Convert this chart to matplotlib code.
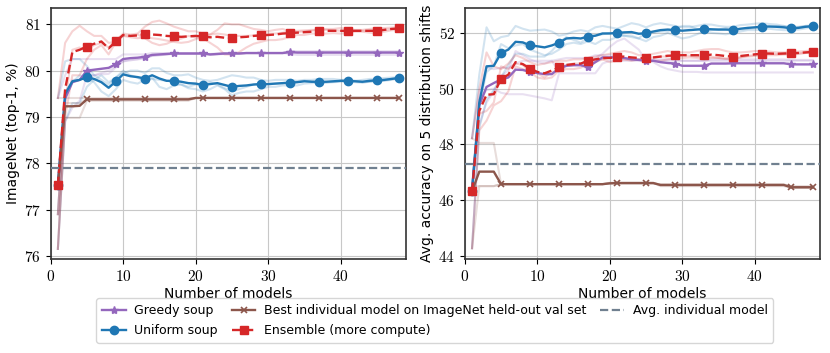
import numpy as np
import matplotlib
matplotlib.use("Agg")
import matplotlib.pyplot as plt
from matplotlib.ticker import FuncFormatter

plt.rcParams['font.family'] = ['DejaVu Sans']
plt.rcParams['mathtext.fontset'] = 'cm'

num_models = list(range(1, 49))

# ---------------- ImageNet (left) ----------------
in_greedy = [77.52, 79.4, 79.75, 79.8, 80.0, 80.02, 80.04, 80.06, 80.14, 80.25, 80.27, 80.28, 80.3, 80.34, 80.35, 80.36,
             80.37, 80.37, 80.37, 80.37, 80.37, 80.35, 80.36, 80.37, 80.37, 80.37, 80.38, 80.38, 80.38, 80.38, 80.38, 80.38,
             80.4, 80.39, 80.39, 80.39, 80.39, 80.39, 80.39, 80.39, 80.39, 80.39, 80.39, 80.39, 80.39, 80.39, 80.39, 80.39]
in_uniform = [77.52, 79.5, 79.77, 79.8, 79.86, 79.82, 79.75, 79.63, 79.77, 79.92, 79.88, 79.86, 79.83, 79.9, 79.83, 79.78,
              79.78, 79.76, 79.73, 79.72, 79.69, 79.71, 79.73, 79.69, 79.65, 79.67, 79.68, 79.7, 79.71, 79.71, 79.72, 79.73,
              79.74, 79.75, 79.77, 79.76, 79.76, 79.76, 79.77, 79.78, 79.78, 79.77, 79.76, 79.78, 79.79, 79.8, 79.82, 79.84]
in_best = [77.52, 79.23, 79.23, 79.24, 79.38, 79.38, 79.38, 79.38, 79.38, 79.38, 79.38, 79.38, 79.38, 79.38, 79.38, 79.38,
           79.38, 79.38, 79.38, 79.41, 79.41, 79.41, 79.41, 79.41, 79.41, 79.41, 79.41, 79.41, 79.41, 79.41, 79.41, 79.41,
           79.41, 79.41, 79.41, 79.41, 79.41, 79.41, 79.41, 79.41, 79.41, 79.41, 79.41, 79.41, 79.41, 79.41, 79.41, 79.41]
in_ensemble = [77.52, 79.6, 80.4, 80.45, 80.52, 80.58, 80.63, 80.48, 80.63, 80.77, 80.75, 80.76, 80.79, 80.78, 80.77, 80.75,
               80.74, 80.73, 80.74, 80.75, 80.74, 80.72, 80.73, 80.71, 80.7, 80.72, 80.73, 80.75, 80.76, 80.77, 80.78, 80.8,
               80.81, 80.82, 80.83, 80.84, 80.85, 80.86, 80.86, 80.86, 80.86, 80.86, 80.86, 80.86, 80.86, 80.88, 80.9, 80.91]
in_avg_individual = 77.89

# individual random orderings (faint lines)
in_greedy_runs = [
    [79.41, 79.9, 80.25, 80.25, 80.25, 80.25, 80.25, 80.25, 80.25, 80.35, 80.35, 80.35, 80.35, 80.38, 80.38, 80.38,
     80.38, 80.38, 80.38, 80.38, 80.38, 80.36, 80.37, 80.38, 80.38, 80.38, 80.38, 80.38, 80.38, 80.38, 80.38, 80.38,
     80.42, 80.42, 80.42, 80.42, 80.42, 80.42, 80.42, 80.42, 80.42, 80.42, 80.42, 80.42, 80.42, 80.42, 80.42, 80.42],
    [76.9, 79.4, 79.8, 79.8, 79.85, 79.9, 79.95, 80.0, 80.1, 80.2, 80.22, 80.25, 80.28, 80.32, 80.33, 80.35,
     80.36, 80.36, 80.36, 80.36, 80.36, 80.34, 80.35, 80.36, 80.36, 80.36, 80.38, 80.38, 80.38, 80.38, 80.38, 80.38,
     80.42, 80.4, 80.4, 80.4, 80.4, 80.4, 80.4, 80.4, 80.4, 80.4, 80.4, 80.4, 80.4, 80.4, 80.4, 80.4],
    [76.15, 78.9, 79.2, 79.35, 79.9, 79.9, 79.92, 79.93, 80.07, 80.2, 80.24, 80.24, 80.27, 80.32, 80.34, 80.35,
     80.37, 80.37, 80.37, 80.37, 80.37, 80.35, 80.36, 80.37, 80.37, 80.37, 80.38, 80.38, 80.38, 80.38, 80.38, 80.38,
     80.36, 80.34, 80.34, 80.34, 80.34, 80.34, 80.34, 80.34, 80.34, 80.34, 80.34, 80.34, 80.34, 80.34, 80.34, 80.34],
]
in_uniform_runs = [
    [79.41, 80.2, 80.25, 80.25, 80.1, 79.9, 79.8, 79.7, 79.85, 79.95, 80.0, 80.0, 79.95, 80.05, 80.05, 79.95,
     79.9, 79.9, 79.92, 79.85, 79.8, 79.78, 79.8, 79.85, 79.9, 79.88, 79.85, 79.85, 79.8, 79.78, 79.8, 79.8,
     79.8, 79.78, 79.8, 79.8, 79.82, 79.82, 79.82, 79.8, 79.8, 79.78, 79.8, 79.82, 79.82, 79.84, 79.85, 79.86],
    [76.9, 79.4, 79.75, 79.9, 79.85, 79.75, 79.55, 79.45, 79.6, 79.8, 79.75, 79.72, 79.8, 79.82, 79.8, 79.78,
     79.75, 79.7, 79.65, 79.7, 79.72, 79.75, 79.7, 79.62, 79.55, 79.6, 79.65, 79.7, 79.72, 79.7, 79.72, 79.73,
     79.75, 79.76, 79.78, 79.76, 79.75, 79.74, 79.75, 79.76, 79.76, 79.75, 79.74, 79.76, 79.78, 79.78, 79.8, 79.82],
    [76.15, 78.9, 79.3, 79.3, 79.65, 79.8, 79.9, 79.75, 79.85, 80.0, 79.9, 79.85, 79.75, 79.85, 79.65, 79.6,
     79.68, 79.7, 79.62, 79.6, 79.55, 79.6, 79.68, 79.6, 79.47, 79.52, 79.55, 79.55, 79.6, 79.65, 79.65, 79.68,
     79.68, 79.68, 79.72, 79.73, 79.74, 79.75, 79.76, 79.78, 79.78, 79.78, 79.75, 79.76, 79.78, 79.79, 79.82, 79.84],
]
in_best_runs = [
    [79.41, 79.41, 79.41, 79.41, 79.41, 79.41, 79.41, 79.41, 79.41, 79.41, 79.41, 79.41, 79.41, 79.41, 79.41, 79.41,
     79.41, 79.41, 79.41, 79.41, 79.41, 79.41, 79.41, 79.41, 79.41, 79.41, 79.41, 79.41, 79.41, 79.41, 79.41, 79.41,
     79.41, 79.41, 79.41, 79.41, 79.41, 79.41, 79.41, 79.41, 79.41, 79.41, 79.41, 79.41, 79.41, 79.41, 79.41, 79.41],
    [76.9, 79.3, 79.3, 79.3, 79.38, 79.38, 79.38, 79.38, 79.38, 79.38, 79.38, 79.38, 79.38, 79.38, 79.38, 79.38,
     79.38, 79.38, 79.38, 79.41, 79.41, 79.41, 79.41, 79.41, 79.41, 79.41, 79.41, 79.41, 79.41, 79.41, 79.41, 79.41,
     79.41, 79.41, 79.41, 79.41, 79.41, 79.41, 79.41, 79.41, 79.41, 79.41, 79.41, 79.41, 79.41, 79.41, 79.41, 79.41],
    [76.15, 78.98, 78.98, 78.98, 79.35, 79.35, 79.35, 79.35, 79.35, 79.35, 79.35, 79.35, 79.35, 79.35, 79.35, 79.35,
     79.35, 79.35, 79.35, 79.41, 79.41, 79.41, 79.41, 79.41, 79.41, 79.41, 79.41, 79.41, 79.41, 79.41, 79.41, 79.41,
     79.41, 79.41, 79.41, 79.41, 79.41, 79.41, 79.41, 79.41, 79.41, 79.41, 79.41, 79.41, 79.41, 79.41, 79.41, 79.41],
]
in_ensemble_runs = [
    [79.41, 80.6, 80.85, 80.97, 80.85, 80.75, 80.75, 80.6, 80.62, 80.75, 80.72, 80.7, 80.72, 80.7, 80.68, 80.65,
     80.62, 80.6, 80.62, 80.68, 80.72, 80.78, 80.88, 81.02, 81.0, 81.0, 80.95, 80.9, 80.88, 80.85, 80.88, 80.9,
     80.85, 80.83, 80.85, 80.86, 80.88, 80.9, 80.9, 80.92, 80.9, 80.88, 80.88, 80.9, 80.92, 80.92, 80.93, 80.94],
    [76.9, 79.3, 80.45, 80.5, 80.45, 80.55, 80.6, 80.5, 80.65, 80.8, 80.78, 80.8, 80.95, 81.05, 81.08, 81.02,
     80.95, 80.9, 80.85, 80.85, 80.8, 80.78, 80.8, 80.78, 80.75, 80.75, 80.75, 80.76, 80.78, 80.8, 80.8, 80.82,
     80.85, 80.86, 80.87, 80.88, 80.88, 80.88, 80.87, 80.86, 80.86, 80.86, 80.86, 80.86, 80.86, 80.88, 80.9, 80.91],
    [76.15, 79.0, 79.9, 79.9, 80.25, 80.45, 80.55, 80.35, 80.62, 80.76, 80.75, 80.78, 80.7, 80.6, 80.55, 80.58,
     80.65, 80.69, 80.75, 80.72, 80.7, 80.6, 80.5, 80.35, 80.35, 80.4, 80.5, 80.58, 80.62, 80.66, 80.66, 80.68,
     80.73, 80.77, 80.77, 80.8, 80.8, 80.8, 80.81, 80.8, 80.82, 80.84, 80.84, 80.82, 80.8, 80.84, 80.87, 80.88],
]

# ---------------- Distribution shifts (right) ----------------
ds_greedy = [46.32, 49.4, 50.06, 50.2, 50.33, 50.4, 50.68, 50.67, 50.6, 50.56, 50.52, 50.52, 50.73, 50.82, 50.84, 50.84,
             50.78, 50.95, 51.12, 51.12, 51.12, 51.1, 51.05, 51.03, 51.0, 51.0, 50.95, 50.92, 50.9, 50.82, 50.82, 50.82,
             50.82, 50.9, 50.9, 50.9, 50.91, 50.91, 50.91, 50.91, 50.91, 50.91, 50.91, 50.91, 50.87, 50.87, 50.87, 50.87]
ds_uniform = [46.32, 49.5, 50.8, 50.82, 51.28, 51.4, 51.68, 51.66, 51.55, 51.52, 51.48, 51.55, 51.65, 51.8, 51.82, 51.8,
              51.87, 51.9, 51.98, 51.98, 52.0, 52.02, 52.03, 51.97, 51.99, 52.05, 52.1, 52.12, 52.1, 52.08, 52.1, 52.12,
              52.14, 52.13, 52.12, 52.12, 52.11, 52.15, 52.18, 52.2, 52.23, 52.23, 52.22, 52.2, 52.17, 52.18, 52.22, 52.24]
ds_best = [46.32, 47.02, 47.02, 47.02, 46.57, 46.57, 46.57, 46.57, 46.57, 46.57, 46.57, 46.57, 46.57, 46.57, 46.57, 46.57,
           46.57, 46.57, 46.57, 46.6, 46.61, 46.61, 46.61, 46.61, 46.61, 46.61, 46.54, 46.54, 46.54, 46.54, 46.54, 46.54,
           46.54, 46.54, 46.54, 46.54, 46.54, 46.54, 46.54, 46.54, 46.54, 46.54, 46.54, 46.54, 46.46, 46.46, 46.46, 46.46]
ds_ensemble = [46.32, 49.2, 49.78, 49.8, 50.35, 50.5, 50.95, 50.88, 50.72, 50.6, 50.55, 50.65, 50.76, 50.85, 50.88, 50.9,
               51.0, 51.05, 51.1, 51.1, 51.15, 51.15, 51.12, 51.1, 51.1, 51.12, 51.15, 51.18, 51.19, 51.2, 51.2, 51.2,
               51.19, 51.22, 51.2, 51.17, 51.15, 51.17, 51.2, 51.23, 51.26, 51.26, 51.25, 51.26, 51.27, 51.28, 51.3, 51.32]
ds_avg_individual = 47.3

ds_greedy_runs = [
    [48.22, 49.9, 50.75, 50.7, 50.75, 50.75, 50.9, 51.0, 51.0, 51.0, 51.0, 51.0, 51.05, 51.1, 51.1, 51.1,
     51.1, 51.2, 51.2, 51.2, 51.15, 51.1, 51.1, 51.05, 51.05, 51.05, 51.05, 51.05, 51.05, 51.0, 51.0, 51.0,
     51.0, 51.05, 51.05, 51.05, 51.05, 51.05, 51.05, 51.05, 51.05, 51.05, 51.05, 51.05, 51.03, 51.03, 51.03, 51.03],
    [46.47, 49.6, 49.95, 50.0, 49.85, 49.8, 49.8, 49.8, 49.75, 49.7, 49.65, 49.58, 50.55, 50.55, 50.55, 50.55,
     50.55, 50.55, 50.9, 51.0, 51.0, 51.0, 51.0, 51.0, 51.0, 51.0, 51.0, 51.0, 51.0, 51.0, 51.0, 51.0,
     51.0, 51.0, 51.0, 51.0, 51.0, 51.0, 51.0, 51.0, 51.0, 51.0, 51.0, 51.0, 51.0, 51.0, 51.0, 51.0],
    [44.27, 48.7, 49.5, 49.9, 50.45, 50.65, 51.35, 51.2, 51.05, 50.95, 50.9, 51.0, 50.6, 50.8, 50.85, 50.85,
     50.7, 51.1, 51.25, 51.5, 51.7, 51.8, 51.6, 51.4, 51.0, 50.95, 50.8, 50.7, 50.65, 50.6, 50.6, 50.6,
     50.58, 50.58, 50.58, 50.58, 50.58, 50.58, 50.58, 50.58, 50.58, 50.58, 50.58, 50.58, 50.58, 50.58, 50.58, 50.58],
]
ds_uniform_runs = [
    [48.22, 50.5, 52.2, 51.7, 51.85, 51.9, 52.25, 52.15, 52.08, 52.1, 52.12, 52.05, 51.9, 51.95, 52.05, 52.1,
     52.05, 52.2, 52.25, 52.2, 52.15, 52.25, 52.35, 52.3, 52.2, 52.3, 52.35, 52.3, 52.25, 52.2, 52.2, 52.25,
     52.3, 52.3, 52.25, 52.22, 52.22, 52.28, 52.3, 52.33, 52.35, 52.32, 52.3, 52.25, 52.22, 52.22, 52.25, 52.27],
    [46.47, 49.4, 50.6, 50.8, 51.6, 51.45, 51.55, 51.6, 51.4, 51.3, 51.2, 51.25, 51.4, 51.6, 51.65, 51.6,
     51.7, 51.6, 51.75, 51.75, 51.85, 51.9, 51.9, 51.8, 51.7, 51.85, 51.9, 52.0, 51.9, 51.8, 51.85, 51.95,
     52.05, 52.0, 51.98, 51.95, 52.0, 52.05, 52.1, 52.1, 52.12, 52.15, 52.12, 52.1, 52.1, 52.12, 52.16, 52.2],
    [44.27, 48.6, 49.6, 49.95, 50.4, 50.85, 51.25, 51.25, 51.15, 51.15, 51.15, 51.35, 51.65, 51.85, 51.75, 51.65,
     51.85, 51.9, 51.95, 52.0, 52.0, 51.9, 51.85, 51.8, 52.05, 52.0, 52.05, 52.06, 52.15, 52.25, 52.25, 52.15,
     52.07, 52.1, 52.12, 52.18, 52.11, 52.12, 52.14, 52.17, 52.19, 52.22, 52.24, 52.25, 52.16, 52.2, 52.25, 52.25],
]
ds_best_runs = [
    [48.22, 48.05, 48.05, 48.05, 46.57, 46.57, 46.57, 46.57, 46.57, 46.57, 46.57, 46.57, 46.57, 46.57, 46.57, 46.57,
     46.57, 46.57, 46.57, 46.6, 46.6, 46.6, 46.6, 46.6, 46.6, 46.6, 46.56, 46.56, 46.56, 46.56, 46.56, 46.56,
     46.56, 46.56, 46.56, 46.56, 46.56, 46.56, 46.56, 46.56, 46.56, 46.56, 46.56, 46.56, 46.5, 46.5, 46.5, 46.5],
    [46.47, 46.5, 46.5, 46.5, 46.57, 46.57, 46.57, 46.57, 46.57, 46.57, 46.57, 46.57, 46.57, 46.57, 46.57, 46.57,
     46.57, 46.57, 46.57, 46.62, 46.62, 46.62, 46.62, 46.62, 46.62, 46.62, 46.5, 46.5, 46.5, 46.5, 46.5, 46.5,
     46.5, 46.5, 46.5, 46.5, 46.5, 46.5, 46.5, 46.5, 46.5, 46.5, 46.5, 46.5, 46.44, 46.44, 46.44, 46.44],
    [44.27, 46.5, 46.5, 46.5, 46.57, 46.57, 46.57, 46.57, 46.57, 46.57, 46.57, 46.57, 46.57, 46.57, 46.57, 46.57,
     46.57, 46.57, 46.57, 46.6, 46.6, 46.6, 46.6, 46.6, 46.6, 46.6, 46.56, 46.56, 46.56, 46.56, 46.56, 46.56,
     46.56, 46.56, 46.56, 46.56, 46.56, 46.56, 46.56, 46.56, 46.56, 46.56, 46.56, 46.56, 46.44, 46.44, 46.44, 46.44],
]
ds_ensemble_runs = [
    [48.22, 50.0, 51.3, 50.8, 50.7, 50.9, 51.2, 51.1, 50.95, 50.85, 50.9, 50.95, 51.0, 51.0, 51.05, 51.05,
     51.1, 51.15, 51.2, 51.25, 51.3, 51.35, 51.3, 51.2, 51.2, 51.25, 51.3, 51.35, 51.3, 51.3, 51.3, 51.35,
     51.4, 51.42, 51.42, 51.35, 51.3, 51.3, 51.32, 51.35, 51.35, 51.33, 51.3, 51.3, 51.32, 51.33, 51.35, 51.37],
    [46.47, 49.1, 49.2, 49.5, 50.8, 50.7, 50.9, 50.85, 50.6, 50.4, 50.35, 50.4, 50.65, 50.85, 50.9, 50.9,
     51.0, 51.05, 51.05, 50.95, 51.0, 51.05, 51.0, 51.05, 51.0, 51.0, 51.0, 51.05, 51.1, 51.1, 51.12, 51.1,
     51.05, 51.1, 51.1, 51.08, 51.05, 51.12, 51.18, 51.2, 51.25, 51.25, 51.24, 51.25, 51.26, 51.27, 51.28, 51.3],
    [44.27, 48.5, 48.85, 49.4, 49.55, 49.9, 50.8, 50.7, 50.6, 50.55, 50.4, 50.6, 50.63, 50.7, 50.7, 50.75,
     50.9, 50.95, 51.05, 51.1, 51.15, 51.05, 51.05, 51.05, 51.1, 51.12, 51.15, 51.15, 51.2, 51.2, 51.18, 51.15,
     51.15, 51.15, 51.1, 51.07, 51.1, 51.12, 51.15, 51.17, 51.2, 51.2, 51.2, 51.22, 51.23, 51.24, 51.28, 51.3],
]

labels = ['Greedy soup', 'Uniform soup', 'Best individual model on ImageNet held-out val set',
          'Ensemble (more compute)', 'Avg. individual model']

marks = list(range(0, 45, 4)) + [47]
styles = [
    dict(color='tab:purple', marker='*', ls='-', ms=6),
    dict(color='tab:blue', marker='o', ls='-', ms=6),
    dict(color='tab:brown', marker='x', ls='-', ms=5, mew=1.2),
    dict(color='tab:red', marker='s', ls='--', ms=6),
]


def draw(ax, mains, runs, avg, ylim, yticks, ylabel):
    for st, r in zip(styles, runs):
        for run in r:
            ax.plot(num_models, run, color=st['color'], alpha=0.2, lw=1.5, zorder=2)
    handles = []
    for st, m, lab in zip(styles, mains, labels):
        h, = ax.plot(num_models, m, lw=1.7, markevery=marks, label=lab, zorder=3, **st)
        handles.append(h)
    h = ax.axhline(avg, color='slategray', ls='--', lw=1.6, label=labels[4], zorder=3)
    handles.append(h)
    ax.set_xlim(0, 49)
    ax.set_ylim(*ylim)
    ax.set_xticks([0, 10, 20, 30, 40])
    ax.set_yticks(yticks)
    fmt = FuncFormatter(lambda v, p: r'$%d$' % v)
    ax.xaxis.set_major_formatter(fmt)
    ax.yaxis.set_major_formatter(fmt)
    ax.tick_params(labelsize=11)
    ax.grid(True, color='#c8c8c8', lw=0.8)
    for s in ax.spines.values():
        s.set_color('#333333')
        s.set_linewidth(1.2)
    ax.set_xlabel('Number of models', fontsize=10, labelpad=2)
    ax.set_ylabel(ylabel, fontsize=10, labelpad=3)
    return handles


fig = plt.figure(figsize=(8.3, 3.53), dpi=100)
ax1 = fig.add_axes([0.061, 0.266, 0.428, 0.711])
ax2 = fig.add_axes([0.560, 0.266, 0.428, 0.711])

handles = draw(ax1, [in_greedy, in_uniform, in_best, in_ensemble],
               [in_greedy_runs, in_uniform_runs, in_best_runs, in_ensemble_runs],
               in_avg_individual, (75.93, 81.35), [76, 77, 78, 79, 80, 81], 'ImageNet (top-1, %)')
draw(ax2, [ds_greedy, ds_uniform, ds_best, ds_ensemble],
     [ds_greedy_runs, ds_uniform_runs, ds_best_runs, ds_ensemble_runs],
     ds_avg_individual, (43.88, 52.89), [44, 46, 48, 50, 52], 'Avg. accuracy on 5 distribution shifts')

fig.legend(handles, labels, loc='lower center', bbox_to_anchor=(0.524, 0.012), ncol=3,
           fontsize=9, handlelength=1.9, handletextpad=0.7, columnspacing=1.1,
           borderpad=0.45, labelspacing=0.55)

fig.savefig('out.png', dpi=100)
